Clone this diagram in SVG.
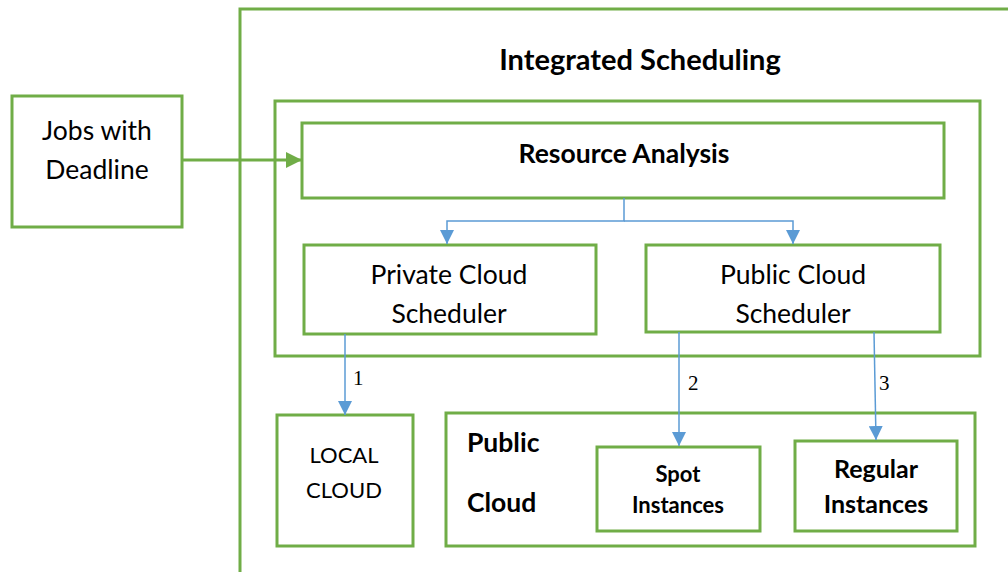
<svg xmlns="http://www.w3.org/2000/svg" width="1008" height="572" viewBox="0 0 1008 572">
<defs>
<style>
.box{fill:#fff;stroke:#70AD47;stroke-width:3}
.frame{fill:none;stroke:#70AD47;stroke-width:3}
.t{font-family:Lato,"Liberation Sans",sans-serif;fill:#000;text-anchor:middle}
.b{font-weight:bold}
.blue{fill:none;stroke:#5B9BD5;stroke-width:1.5}
.num{font-family:"Liberation Serif",serif;font-size:21px;fill:#000}
</style>
<marker id="ab" viewBox="0 0 10 10" refX="10" refY="5" markerWidth="14" markerHeight="14" markerUnits="userSpaceOnUse" orient="auto"><path d="M0,0 L10,5 L0,10 z" fill="#5B9BD5"/></marker>
<marker id="ag" viewBox="0 0 10 10" refX="10" refY="5" markerWidth="16" markerHeight="16" markerUnits="userSpaceOnUse" orient="auto"><path d="M0,0 L10,5 L0,10 z" fill="#70AD47"/></marker>
</defs>
<rect width="1008" height="572" fill="#fff"/>
<g id="integrated">
<path class="frame" d="M240,572 V9 H1010"/>
<text class="t b" x="640" y="70" font-size="29">Integrated Scheduling</text>
<rect class="frame" x="275" y="101" width="705" height="255"/>
</g>
<g id="jobs">
<rect class="box" x="12" y="96" width="170" height="131"/>
<text class="t" x="97" y="140" font-size="26.5">Jobs with</text>
<text class="t" x="97" y="179" font-size="26.5">Deadline</text>
</g>
<g id="resource">
<rect class="box" x="302" y="123" width="642" height="75"/>
<text class="t b" x="624" y="163" font-size="26.5">Resource Analysis</text>
</g>
<g id="private">
<rect class="box" x="304" y="245" width="292" height="89"/>
<text class="t" x="449" y="284" font-size="26.5">Private Cloud</text>
<text class="t" x="449" y="323" font-size="26.5">Scheduler</text>
</g>
<g id="publicsched">
<rect class="box" x="646" y="245" width="294" height="87"/>
<text class="t" x="793" y="284" font-size="26.5">Public Cloud</text>
<text class="t" x="793" y="323" font-size="26.5">Scheduler</text>
</g>
<g id="local">
<rect class="box" x="277" y="415" width="136" height="131"/>
<text class="t" x="344" y="463" font-size="22">LOCAL</text>
<text class="t" x="344" y="498" font-size="22">CLOUD</text>
</g>
<g id="publiccloud">
<rect class="box" x="446" y="413" width="529" height="133"/>
<text class="t b" x="467" y="452" font-size="26.5" style="text-anchor:start">Public</text>
<text class="t b" x="467" y="512" font-size="26.5" style="text-anchor:start">Cloud</text>
</g>
<g id="spot">
<rect class="box" x="597" y="447" width="163" height="84"/>
<text class="t b" x="678" y="482" font-size="22">Spot</text>
<text class="t b" x="678" y="513" font-size="22">Instances</text>
</g>
<g id="regular">
<rect class="box" x="795" y="441" width="162" height="90"/>
<text class="t b" x="876" y="478" font-size="25">Regular</text>
<text class="t b" x="876" y="513" font-size="25">Instances</text>
</g>
<g id="connectors">
<path d="M182,160 H302" fill="none" stroke="#70AD47" stroke-width="3" marker-end="url(#ag)"/>
<path class="blue" d="M624,198 V221 H447 V244" marker-end="url(#ab)"/>
<path class="blue" d="M624,221 H793 V244" marker-end="url(#ab)"/>
<path class="blue" d="M345,334 V415" marker-end="url(#ab)"/>
<path class="blue" d="M679,332 V446" marker-end="url(#ab)"/>
<path class="blue" d="M874,332 L876,440" marker-end="url(#ab)"/>
<text class="num" x="353" y="385">1</text>
<text class="num" x="688" y="390">2</text>
<text class="num" x="879" y="390">3</text>
</g>
</svg>
